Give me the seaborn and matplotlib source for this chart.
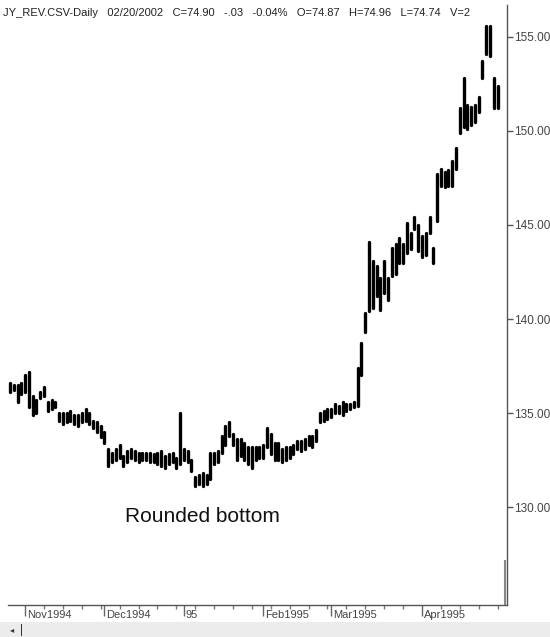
import numpy as np
import pandas as pd
import matplotlib.pyplot as plt
import matplotlib.ticker as mticker
import matplotlib.transforms as mtransforms
from matplotlib.patches import Rectangle
import seaborn as sns

# daily bars, Oct 1994 -> Apr 1995 (one entry per trading day)
highs = [136.6, 136.5, 136.5, 136.6, 137.0, 137.2, 135.9, 135.7, 136.1, 136.4,
         135.6, 135.7, 135.6, 135.0, 135.0, 135.0, 135.1, 134.9, 134.9, 135.0,
         135.2, 135.0, 134.6, 134.5, 134.3, 134.0, 133.1, 132.9, 133.1, 133.3,
         132.7, 133.0, 133.1, 133.0, 132.9, 132.9, 132.9, 132.9, 132.8, 132.9,
         133.0, 132.7, 132.8, 132.9, 132.6, 135.0, 133.1, 133.0, 132.5, 131.6,
         131.7, 131.8, 131.7, 132.9, 132.9, 133.0, 133.8, 134.3, 134.5, 133.9,
         133.6, 133.6, 133.4, 133.2, 133.2, 133.2, 133.2, 133.3, 134.2, 133.9,
         133.4, 133.4, 133.1, 133.2, 133.2, 133.3, 133.5, 133.5, 133.6, 133.8,
         133.8, 134.1, 135.0, 135.1, 135.2, 135.2, 135.5, 135.4, 135.6, 135.5,
         135.5, 135.6, 137.4, 138.7, 140.3, 144.1, 143.1, 142.8, 142.2, 143.1,
         142.2, 143.8, 144.0, 144.3, 144.0, 145.1, 144.6, 145.4, 145.0, 144.4,
         144.6, 145.4, 143.8, 147.7, 148.0, 147.8, 147.9, 148.4, 149.1, 151.2,
         152.8, 151.4, 151.3, 151.4, 151.8, 153.7, 155.6, 155.6, 152.8, 152.4]
lows = [136.1, 136.2, 135.6, 136.0, 136.1, 135.3, 134.9, 135.0, 135.8, 135.9,
        135.1, 135.2, 135.3, 134.6, 134.4, 134.5, 134.6, 134.4, 134.3, 134.5,
        134.6, 134.4, 134.2, 134.0, 133.7, 133.4, 132.2, 132.4, 132.5, 132.6,
        132.2, 132.4, 132.6, 132.5, 132.4, 132.5, 132.5, 132.4, 132.4, 132.3,
        132.2, 132.1, 132.3, 132.4, 132.1, 132.3, 132.5, 132.4, 131.9, 131.1,
        131.2, 131.1, 131.2, 131.5, 132.3, 132.4, 132.9, 133.3, 133.8, 133.3,
        132.5, 132.7, 132.5, 132.3, 132.1, 132.5, 132.6, 132.6, 133.2, 132.8,
        132.5, 132.5, 132.4, 132.5, 132.6, 132.8, 133.1, 133.0, 133.1, 133.3,
        133.2, 133.5, 134.5, 134.6, 134.7, 134.8, 135.0, 135.0, 134.9, 135.1,
        135.2, 135.3, 135.4, 137.0, 139.3, 140.4, 140.6, 141.2, 140.5, 141.4,
        141.0, 142.3, 142.4, 143.0, 143.0, 143.5, 143.7, 144.8, 143.6, 143.3,
        143.4, 144.6, 143.0, 145.2, 147.1, 147.0, 147.1, 147.1, 148.0, 149.9,
        150.2, 150.1, 150.3, 150.5, 151.0, 152.8, 154.1, 154.0, 151.2, 151.2]

month_pos = [4, 25, 46, 67, 85, 109]
month_labels = ["Nov1994", "Dec1994", "95", "Feb1995", "Mar1995", "Apr1995"]
price_ticks = [130, 135, 140, 145, 150, 155]

volume_bar_pos = 131
volume_bar_top = 127.2

header = ("JY_REV.CSV-Daily   02/20/2002   C=74.90   -.03   -0.04%   "
          "O=74.87   H=74.96   L=74.74   V=2")

sns.set_style("white")
plt.rcParams["font.family"] = ["Liberation Sans", "DejaVu Sans"]

bars = np.arange(len(highs))
df = pd.DataFrame({
    "bar": np.repeat(bars, 2),
    "price": np.column_stack([lows, highs]).ravel(),
})

fig = plt.figure(figsize=(5.5, 6.37), dpi=100)
ax = fig.add_axes([8 / 550, (637 - 605) / 637, 499 / 550, 600 / 637])

sns.lineplot(data=df, x="bar", y="price", units="bar", estimator=None,
             sort=False, color="black", lw=2.4, ax=ax, legend=False)

# last volume bar at bottom right
ax.vlines(volume_bar_pos, 124.79, volume_bar_top, color="#888888", lw=1.5)

ax.set_xlim(-0.53, 131.5)
ax.set_ylim(124.79, 156.70)
ax.set_xlabel("")
ax.set_ylabel("")

for side in ["left", "top"]:
    ax.spines[side].set_visible(False)
for side in ["right", "bottom"]:
    ax.spines[side].set_color("#555555")
    ax.spines[side].set_linewidth(1.0)

# price axis on the right
ax.yaxis.tick_right()
ax.set_yticks(price_ticks)
ax.yaxis.set_major_formatter(mticker.FormatStrFormatter("%.2f"))
ax.tick_params(axis="y", which="major", right=True, left=False,
               direction="out", length=4, width=1,
               color="#555555", labelsize=8.5, labelcolor="#444444", pad=1)

# month ticks with labels starting right of the tick
ax.set_xticks(month_pos)
ax.set_xticklabels(month_labels)
ax.xaxis.set_minor_locator(mticker.MultipleLocator(5, offset=4))
ax.tick_params(axis="x", which="major", bottom=True, direction="out",
               length=8, width=1, color="#666666", labelsize=8,
               labelcolor="#444444", pad=-4.5)
ax.tick_params(axis="x", which="minor", bottom=True, direction="out",
               length=3, width=1, color="#777777")
shift = mtransforms.ScaledTranslation(2 / 100, 0, fig.dpi_scale_trans)
for lbl in ax.get_xticklabels():
    lbl.set_horizontalalignment("left")
    lbl.set_transform(lbl.get_transform() + shift)

ax.text(0.235, 0.148, "Rounded bottom", transform=ax.transAxes,
        fontsize=15, color="#111111", ha="left", va="center")

fig.text(3 / 550, 1 - 13 / 637, header, fontsize=8, color="#222222",
         ha="left", va="center")

# scrollbar strip at the bottom
fig.patches.append(Rectangle((0, 0), 1, 15 / 637, transform=fig.transFigure,
                             facecolor="#ececec", edgecolor="none"))
fig.text(10 / 550, 7 / 637, "\u25c2", fontsize=6, color="#333333",
         ha="left", va="center", family=["DejaVu Sans"])
fig.patches.append(Rectangle((21 / 550, 1 / 637), 1.2 / 550, 12 / 637,
                             transform=fig.transFigure, facecolor="#333333",
                             edgecolor="none"))

fig.savefig("out.png", dpi=100)
